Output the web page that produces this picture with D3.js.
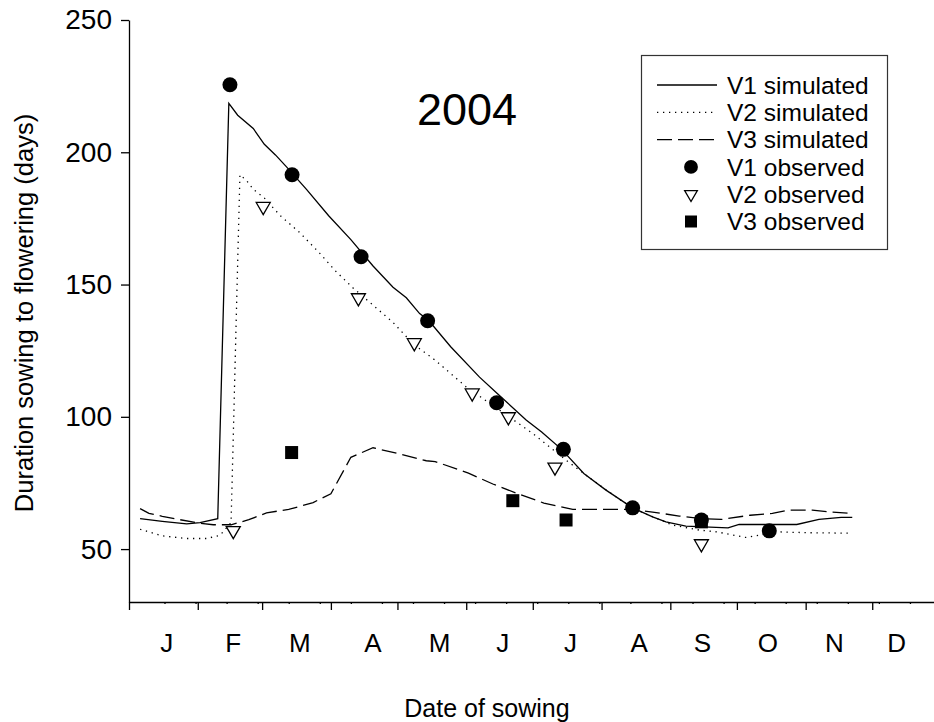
<!DOCTYPE html>
<html>
<head>
<meta charset="utf-8">
<script src="https://cdn.jsdelivr.net/npm/d3@7"></script>
<style>
  body { margin: 0; background: #fff; }
  svg { display: block; font-family: "Liberation Sans", Arial, sans-serif; }
</style>
</head>
<body>
<svg id="chart" width="934" height="722"></svg>
<script>
// sowing day of year (0 = 1 Jan 2004) and duration to flowering (days)
const v1Simulated = [
  [5, 61.5], [15, 60.5], [26, 59.5], [32, 60], [40, 61.5], [45, 218.5], [49, 214],
  [56, 209], [61, 203], [66, 199], [71, 194.5], [80, 186], [90, 176], [100, 167],
  [110, 157], [119, 149], [125, 145], [131, 139], [135, 136.5], [145, 126.5],
  [158, 115], [166, 108.8], [179, 98.8], [186, 94.3], [195, 87.7], [205, 78.6],
  [215, 72.3], [227, 65.6], [236, 62.2], [242, 60.3], [251, 58.7], [270, 58],
  [275, 59.3], [301, 59.3], [311, 61.2], [321, 62], [326, 62]
];
const v2Simulated = [
  [5, 57.5], [15, 55], [26, 54], [35, 54], [41, 55.2], [46, 60], [50, 191.5],
  [53, 189.3], [56, 186], [61, 182.7], [68, 176.2], [77, 169.6], [86, 161.8],
  [93, 155.2], [101, 148.7], [110, 142.2], [119, 135.7], [128, 127.6], [138, 121.4],
  [152, 111.3], [167, 102.5], [182, 93.7], [197, 83.6], [212, 74.2], [227, 65.4],
  [245, 59.1], [257, 57.2], [265, 56.5], [278, 54.4], [293, 56.5], [305, 56.2], [326, 56]
];
const v3Simulated = [
  [5, 65.3], [9, 63.5], [15, 62.4], [23, 61.1], [32, 59.8], [38, 59.2], [46, 59.2],
  [54, 61.1], [62, 63.7], [72, 65], [83, 67.6], [91, 70.9], [100, 84.7], [110, 88.3],
  [122, 86], [134, 83.4], [138, 83.1], [153, 78.7], [164, 74.6], [175, 71],
  [187, 67.4], [200, 65], [215, 65], [227, 65], [236, 64], [248, 62.5], [258, 61.5],
  [267, 61.2], [280, 62.8], [290, 63.5], [297, 64.7], [308, 64.7], [316, 64], [325, 63.5]
];
const v1Observed = [
  [45.5, 225.5], [73.5, 191.5], [104.6, 160.5], [134.6, 136.3], [165.7, 105.3],
  [195.8, 87.7], [227, 65.6], [258, 61], [288.6, 56.9]
];
const v2Observed = [
  [47, 57], [60.5, 179.5], [103.4, 145], [128.6, 128], [154.7, 109],
  [171, 100], [192, 81], [258, 52]
];
const v3Observed = [
  [73.3, 86.5], [173, 68.3], [197, 61], [258, 60.3]
];

const monthStarts = [0, 31, 60, 91, 121, 152, 182, 213, 244, 274, 305, 335, 366];
const minorTicks = [16, 30, 44, 58, 72, 86, 100, 114, 128, 142, 156, 170, 184, 198,
  212, 226, 240, 254, 268, 282, 296, 310, 324, 338, 352, 366];
const monthLabels = ["J", "F", "M", "A", "M", "J", "J", "A", "S", "O", "N", "D"];
const monthLabelDays = [17, 47, 77, 110, 140, 168.5, 199, 230, 258.5, 288, 318, 346];
const yTicks = [50, 100, 150, 200, 250];

const legendItems = [
  { label: "V1 simulated", type: "line", dash: null },
  { label: "V2 simulated", type: "line", dash: "1.3,4.7" },
  { label: "V3 simulated", type: "line", dash: "15,6" },
  { label: "V1 observed", type: "circle" },
  { label: "V2 observed", type: "triangle" },
  { label: "V3 observed", type: "square" }
];

const svg = d3.select("#chart");

const x = d3.scaleLinear().domain([0, 366]).range([129, 941]);
const y = d3.scaleLinear().domain([30, 250]).range([602, 20]);

// axes
const yAxis = svg.append("g")
  .attr("transform", "translate(129,0)")
  .call(d3.axisLeft(y).tickValues(yTicks).tickSize(8).tickSizeOuter(0).tickPadding(9));
yAxis.selectAll("text").attr("font-size", 28).attr("fill", "#000")
  .attr("font-family", "Liberation Sans, Arial, sans-serif");

svg.append("g")
  .attr("transform", "translate(0,602)")
  .call(d3.axisBottom(x).tickValues(monthStarts).tickSize(8).tickSizeOuter(0).tickFormat(""));
svg.append("g")
  .attr("transform", "translate(0,602)")
  .call(d3.axisBottom(x).tickValues(minorTicks).tickSize(2).tickSizeOuter(0).tickFormat(""))
  .select(".domain").remove();
svg.selectAll(".domain, .tick line").attr("stroke", "#000").attr("stroke-width", 1.3);

svg.append("g")
  .selectAll("text")
  .data(monthLabels)
  .join("text")
  .attr("x", (d, i) => x(monthLabelDays[i]))
  .attr("y", 652)
  .attr("text-anchor", "middle")
  .attr("font-size", 26)
  .text(d => d);

// axis titles
svg.append("text")
  .attr("x", 487).attr("y", 717)
  .attr("text-anchor", "middle")
  .attr("font-size", 25)
  .text("Date of sowing");
svg.append("text")
  .attr("transform", "translate(33,313) rotate(-90)")
  .attr("text-anchor", "middle")
  .attr("font-size", 25.5)
  .text("Duration sowing to flowering (days)");

// year label
svg.append("text")
  .attr("x", 467).attr("y", 125)
  .attr("text-anchor", "middle")
  .attr("font-size", 45)
  .text("2004");

// simulated lines
const line = d3.line().x(d => x(d[0])).y(d => y(d[1]));
const series = [
  { data: v1Simulated, dash: null },
  { data: v2Simulated, dash: "1.3,4.7" },
  { data: v3Simulated, dash: "15,6" }
];
svg.append("g")
  .selectAll("path")
  .data(series)
  .join("path")
  .attr("d", d => line(d.data))
  .attr("fill", "none")
  .attr("stroke", "#000")
  .attr("stroke-width", 1.3)
  .attr("stroke-dasharray", d => d.dash);

// observed points
const circleSym = d3.symbol(d3.symbolCircle, 177);
const triSym = d3.symbol(d3.symbolTriangle, 85);
const squareSym = d3.symbol(d3.symbolSquare, 169);

svg.append("g")
  .selectAll("path")
  .data(v3Observed)
  .join("path")
  .attr("transform", d => `translate(${x(d[0])},${y(d[1])})`)
  .attr("d", squareSym)
  .attr("fill", "#000");

svg.append("g")
  .selectAll("path")
  .data(v1Observed)
  .join("path")
  .attr("transform", d => `translate(${x(d[0])},${y(d[1])})`)
  .attr("d", circleSym)
  .attr("fill", "#000");

svg.append("g")
  .selectAll("path")
  .data(v2Observed)
  .join("path")
  .attr("transform", d => `translate(${x(d[0])},${y(d[1])}) rotate(180)`)
  .attr("d", triSym)
  .attr("fill", "#fff")
  .attr("stroke", "#000")
  .attr("stroke-width", 1.3);

// legend
const legend = svg.append("g");
legend.append("rect")
  .attr("x", 641.5).attr("y", 55.5)
  .attr("width", 246).attr("height", 194)
  .attr("fill", "#fff")
  .attr("stroke", "#333")
  .attr("stroke-width", 1.2);

const rows = legend.selectAll("g")
  .data(legendItems)
  .join("g")
  .attr("transform", (d, i) => `translate(0,${85 + i * 27.3})`);

rows.filter(d => d.type === "line")
  .append("line")
  .attr("x1", 657).attr("x2", 717)
  .attr("stroke", "#000")
  .attr("stroke-width", 1.3)
  .attr("stroke-dasharray", d => d.dash);

rows.filter(d => d.type === "circle")
  .append("path")
  .attr("transform", "translate(691,0)")
  .attr("d", d3.symbol(d3.symbolCircle, 150))
  .attr("fill", "#000");
rows.filter(d => d.type === "triangle")
  .append("path")
  .attr("transform", "translate(691,0) rotate(180)")
  .attr("d", d3.symbol(d3.symbolTriangle, 70))
  .attr("fill", "#fff")
  .attr("stroke", "#000")
  .attr("stroke-width", 1.3);
rows.filter(d => d.type === "square")
  .append("path")
  .attr("transform", "translate(691,0)")
  .attr("d", d3.symbol(d3.symbolSquare, 144))
  .attr("fill", "#000");

rows.append("text")
  .attr("x", 727)
  .attr("dy", "0.36em")
  .attr("font-size", 24.5)
  .text(d => d.label);
</script>
</body>
</html>
